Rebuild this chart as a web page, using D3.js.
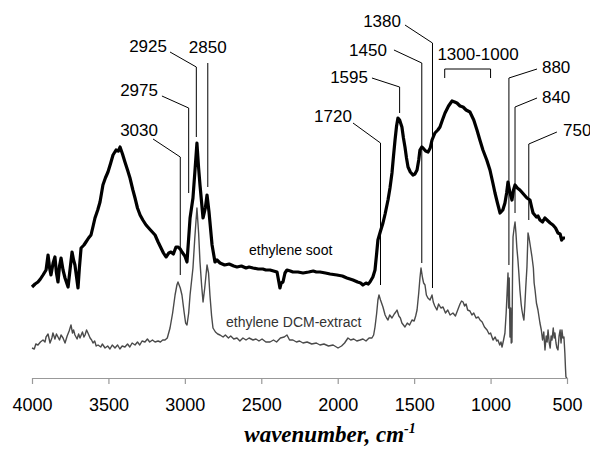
<!DOCTYPE html>
<html>
<head>
<meta charset="utf-8">
<script src="https://cdn.jsdelivr.net/npm/d3@7"></script>
<style>
  html, body { margin: 0; padding: 0; background: #fff; }
  svg { display: block; }
</style>
</head>
<body>
<svg id="chart" width="590" height="450"></svg>
<script>
// ---- data (wavenumber cm^-1, absorbance in arbitrary units) ----
const sootSpectrum = [
  [4000,0.91],[3980,0.94],[3961,0.96],[3945,0.99],[3928,1.03],[3908,1.08],[3895,1.23],[3885,1.10],[3876,1.03],
  [3862,1.15],[3850,1.21],[3840,1.05],[3830,0.96],[3820,1.12],[3810,1.20],[3797,1.08],[3784,1.00],[3764,0.91],
  [3750,1.10],[3738,1.26],[3728,1.18],[3719,1.13],[3699,0.90],[3690,1.10],[3679,1.30],[3660,1.33],[3647,1.36],
  [3630,1.40],[3614,1.43],[3600,1.52],[3588,1.60],[3570,1.68],[3555,1.76],[3536,1.93],[3520,2.00],[3503,2.06],
  [3485,2.15],[3470,2.23],[3450,2.28],[3435,2.27],[3424,2.31],[3408,2.24],[3392,2.16],[3375,2.08],[3359,2.00],
  [3340,1.88],[3326,1.80],[3310,1.70],[3293,1.63],[3275,1.58],[3254,1.53],[3225,1.48],[3195,1.43],[3175,1.36],
  [3156,1.30],[3140,1.25],[3123,1.21],[3105,1.25],[3091,1.26],[3075,1.24],[3058,1.31],[3045,1.31],[3030,1.29],
  [3019,1.26],[3000,1.22],[2986,1.16],[2975,1.40],[2966,1.60],[2947,1.80],[2935,2.05],[2921,2.35],[2910,2.10],
  [2901,1.93],[2881,1.60],[2866,1.70],[2855,1.83],[2842,1.66],[2822,1.33],[2803,1.16],[2790,1.18],[2770,1.15],
  [2740,1.13],[2710,1.14],[2680,1.12],[2659,1.11],[2630,1.12],[2600,1.10],[2580,1.11],[2554,1.10],[2520,1.09],
  [2490,1.09],[2470,1.08],[2443,1.08],[2420,1.07],[2397,1.06],[2385,0.96],[2378,0.90],[2370,0.95],[2358,0.96],
  [2345,1.05],[2332,1.08],[2310,1.07],[2293,1.06],[2260,1.06],[2227,1.05],[2190,1.06],[2160,1.07],[2140,1.06],
  [2116,1.06],[2080,1.05],[2050,1.04],[2005,1.03],[1970,1.02],[1940,1.00],[1900,0.98],[1870,0.96],[1850,0.95],
  [1835,0.93],[1815,0.95],[1800,0.94],[1789,0.96],[1770,1.01],[1756,1.08],[1745,1.25],[1737,1.38],[1720,1.47],
  [1704,1.55],[1690,1.64],[1671,1.78],[1658,1.90],[1645,2.05],[1635,2.22],[1625,2.38],[1615,2.52],[1606,2.60],
  [1595,2.58],[1580,2.51],[1570,2.40],[1560,2.31],[1550,2.20],[1540,2.11],[1525,2.06],[1508,2.03],[1495,2.04],
  [1481,2.08],[1470,2.18],[1462,2.28],[1450,2.31],[1442,2.30],[1425,2.27],[1409,2.26],[1395,2.30],[1383,2.38],
  [1364,2.45],[1345,2.48],[1331,2.51],[1315,2.58],[1298,2.65],[1275,2.72],[1252,2.77],[1235,2.76],[1220,2.75],
  [1200,2.72],[1180,2.71],[1160,2.68],[1135,2.66],[1110,2.58],[1089,2.48],[1070,2.38],[1050,2.28],[1025,2.18],
  [1004,2.08],[985,1.95],[971,1.85],[955,1.75],[938,1.65],[920,1.68],[906,1.75],[895,1.85],[886,1.96],[874,1.86],
  [860,1.78],[850,1.88],[840,1.93],[825,1.90],[808,1.88],[785,1.84],[762,1.80],[742,1.78],[730,1.70],[722,1.65],
  [700,1.61],[690,1.62],[677,1.58],[660,1.56],[645,1.60],[631,1.58],[610,1.55],[592,1.53],[575,1.50],[559,1.45],
  [545,1.44],[535,1.38],[526,1.40],[513,1.40]
];

const dcmSpectrum = [
  [4000,0.30],[3985,0.29],[3975,0.34],[3961,0.33],[3945,0.36],[3928,0.38],[3915,0.36],[3908,0.41],[3895,0.44],
  [3882,0.35],[3870,0.40],[3863,0.45],[3850,0.39],[3840,0.44],[3830,0.41],[3820,0.38],[3810,0.43],[3797,0.40],
  [3784,0.35],[3770,0.42],[3757,0.47],[3745,0.53],[3735,0.45],[3728,0.48],[3719,0.43],[3705,0.39],[3695,0.44],
  [3686,0.40],[3670,0.46],[3660,0.41],[3653,0.43],[3643,0.48],[3634,0.45],[3620,0.40],[3610,0.38],[3601,0.35],
  [3590,0.37],[3580,0.32],[3568,0.33],[3550,0.31],[3540,0.34],[3522,0.30],[3505,0.32],[3490,0.29],[3475,0.33],
  [3457,0.30],[3440,0.33],[3425,0.29],[3410,0.32],[3392,0.31],[3375,0.34],[3360,0.31],[3345,0.35],[3326,0.33],
  [3310,0.36],[3295,0.33],[3280,0.37],[3261,0.36],[3245,0.39],[3230,0.36],[3212,0.38],[3195,0.36],[3175,0.37],
  [3160,0.36],[3145,0.38],[3130,0.38],[3115,0.40],[3097,0.50],[3080,0.65],[3064,0.83],[3052,0.93],[3045,0.96],
  [3030,0.90],[3019,0.83],[3005,0.66],[2995,0.55],[2986,0.53],[2975,0.65],[2966,0.83],[2947,1.10],[2935,1.40],
  [2921,1.70],[2910,1.45],[2901,1.16],[2890,0.92],[2881,0.76],[2870,0.90],[2855,1.13],[2845,1.05],[2836,0.83],
  [2825,0.62],[2816,0.50],[2800,0.46],[2785,0.44],[2770,0.43],[2750,0.41],[2735,0.43],[2715,0.40],[2700,0.42],
  [2680,0.39],[2659,0.40],[2640,0.37],[2620,0.40],[2600,0.38],[2580,0.40],[2554,0.38],[2535,0.39],[2515,0.37],
  [2495,0.39],[2470,0.36],[2443,0.36],[2420,0.38],[2400,0.36],[2375,0.40],[2350,0.41],[2332,0.43],[2315,0.38],
  [2293,0.38],[2270,0.36],[2250,0.37],[2227,0.35],[2200,0.36],[2170,0.34],[2140,0.35],[2116,0.33],[2090,0.34],
  [2060,0.32],[2030,0.33],[1998,0.30],[1975,0.32],[1955,0.35],[1933,0.40],[1915,0.38],[1895,0.39],[1875,0.37],
  [1854,0.38],[1835,0.39],[1815,0.37],[1795,0.40],[1776,0.40],[1765,0.43],[1756,0.51],[1745,0.65],[1737,0.78],
  [1730,0.83],[1720,0.78],[1704,0.71],[1690,0.63],[1680,0.60],[1671,0.58],[1660,0.63],[1645,0.60],[1630,0.64],
  [1620,0.66],[1612,0.68],[1600,0.62],[1590,0.60],[1580,0.55],[1570,0.53],[1560,0.51],[1545,0.55],[1530,0.53],
  [1514,0.58],[1500,0.57],[1490,0.62],[1481,0.68],[1470,0.85],[1462,1.00],[1455,1.10],[1445,1.00],[1438,0.95],
  [1429,0.93],[1420,0.83],[1410,0.80],[1396,0.78],[1383,0.83],[1375,0.76],[1365,0.72],[1351,0.68],[1340,0.74],
  [1325,0.70],[1311,0.71],[1295,0.65],[1280,0.68],[1265,0.63],[1246,0.65],[1230,0.62],[1215,0.68],[1200,0.74],
  [1190,0.77],[1180,0.76],[1170,0.72],[1160,0.74],[1150,0.68],[1135,0.67],[1122,0.63],[1110,0.65],[1095,0.60],
  [1080,0.61],[1069,0.58],[1055,0.56],[1040,0.51],[1023,0.48],[1010,0.44],[1000,0.45],[984,0.38],[970,0.41],
  [960,0.37],[952,0.38],[940,0.33],[932,0.36],[925,0.31],[915,0.38],[906,0.45],[898,0.65],[892,0.85],[886,1.05],
  [882,0.70],[878,1.00],[873,0.41],[868,0.70],[865,0.35],[860,0.36],[856,1.10],[853,1.41],[846,1.50],[840,1.56],
  [834,1.45],[828,1.30],[821,1.18],[815,1.05],[808,0.88],[800,0.74],[795,0.68],[788,0.62],[782,0.58],[776,0.72],
  [770,0.90],[762,1.11],[755,1.45],[748,1.40],[740,1.32],[729,1.21],[720,1.10],[715,0.95],[709,0.88],[700,0.75],
  [690,0.68],[684,0.62],[677,0.55],[668,0.48],[660,0.38],[652,0.46],[644,0.28],[636,0.42],[630,0.36],[624,0.48],
  [616,0.35],[610,0.30],[604,0.42],[598,0.38],[590,0.50],[584,0.40],[579,0.45],[572,0.35],[566,0.30],[559,0.28],
  [552,0.42],[545,0.48],[539,0.35],[533,0.48],[527,0.40],[520,0.41],[514,0.25],[510,0.10],[507,0.01],[500,0.00]
];

const xTickValues = [4000, 3500, 3000, 2500, 2000, 1500, 1000, 500];

// peak annotations: peak wavenumber, tip value, elbow value, leader start (wn, value),
// label anchor point (wn, value)
const peakLabels   = ["3030", "2975", "2925", "2850", "1720", "1595", "1450", "1380", "880", "840", "750"];
const peakWn       = [3030, 2975, 2925, 2850, 1720, 1595, 1450, 1380, 880, 840, 750];
const peakTip      = [1.03, 1.85, 2.41, 1.91, 0.93, 2.65, 1.15, 0.90, 1.13, 1.65, 1.58];
const peakElbow    = [2.21, 2.70, 3.11, 3.15, 2.35, 2.91, 3.15, 3.35, 3.00, 2.71, 2.34];
const leaderStartWn= [3208, 3150, 3097, 2850, 1900, 1776, 1632, 1560, 696, 696, 566];
const leaderStartV = [2.39, 2.82, 3.26, 3.15, 2.55, 3.00, 3.28, 3.53, 3.09, 2.80, 2.46];
const labelWn      = [3176, 3176, 3117, 2850, 1907, 1802, 1678, 1586, 664, 664, 526];
const labelV       = [2.42, 2.82, 3.26, 3.25, 2.56, 2.95, 3.22, 3.51, 3.05, 2.75, 2.42];
const labelSide    = ["end", "end", "end", "middle", "end", "end", "end", "end", "start", "start", "start"];

// region bracket
const regionLabel = "1300-1000";
const regionRange = [1300, 1000];
const regionTextWn = 1082;
const regionBarV = 3.09, regionEndV = 3.00, regionTextV = 3.18;

// series labels
const seriesNames = ["ethylene soot", "ethylene DCM-extract"];
const seriesLabelWn = [2580, 2731];
const seriesLabelV = [1.23, 0.51];

// ---- drawing ----
const svg = d3.select("#chart");
const x = d3.scaleLinear().domain([4000, 500]).range([32, 567]);
const y = d3.scaleLinear().domain([0, 3.78]).range([378, 0]);
const sans = "Arial, 'Liberation Sans', Helvetica, sans-serif";

const line = d3.line().x(d => x(d[0])).y(d => y(d[1]));

svg.append("path")
  .datum(dcmSpectrum)
  .attr("d", line)
  .attr("fill", "none")
  .attr("stroke", "#4a4a4a")
  .attr("stroke-width", 1.4)
  .attr("stroke-linejoin", "round");

svg.append("path")
  .datum(sootSpectrum)
  .attr("d", line)
  .attr("fill", "none")
  .attr("stroke", "#000")
  .attr("stroke-width", 3.2)
  .attr("stroke-linejoin", "round");

// axis
const axis = d3.axisBottom(x).tickValues(xTickValues).tickFormat(d3.format("d"))
  .tickSize(6).tickSizeOuter(0).tickPadding(14);
const gx = svg.append("g").attr("transform", `translate(0,${y(0)})`).call(axis);
gx.select(".domain").attr("stroke", "#999").attr("stroke-width", 1.2);
gx.selectAll(".tick line").attr("stroke", "#999").attr("stroke-width", 1.2);
gx.selectAll(".tick text").attr("fill", "#000").attr("font-family", sans).attr("font-size", 18);

// axis title
const title = svg.append("text")
  .attr("x", 330).attr("y", 442)
  .attr("text-anchor", "middle")
  .attr("font-family", "'Times New Roman', 'Liberation Serif', Times, serif")
  .attr("font-style", "italic").attr("font-weight", "bold")
  .attr("font-size", 23)
  .attr("fill", "#000");
title.append("tspan").text("wavenumber, cm");
title.append("tspan").attr("font-size", 14).attr("dy", -9).text("-1");

// annotations
const ann = svg.append("g").attr("stroke", "#000").attr("stroke-width", 1).attr("fill", "none");
peakLabels.forEach((lab, i) => {
  const pts = [
    [x(leaderStartWn[i]), y(leaderStartV[i])],
    [x(peakWn[i]), y(peakElbow[i])],
    [x(peakWn[i]), y(peakTip[i])]
  ];
  ann.append("path").attr("d", d3.line()(pts));
  svg.append("text")
    .attr("x", x(labelWn[i])).attr("y", y(labelV[i]))
    .attr("text-anchor", labelSide[i])
    .attr("font-family", sans).attr("font-size", 17).attr("fill", "#000")
    .text(lab);
});

// region bracket
ann.append("path").attr("d", d3.line()([
  [x(regionRange[0]), y(regionEndV)],
  [x(regionRange[0]), y(regionBarV)],
  [x(regionRange[1]), y(regionBarV)],
  [x(regionRange[1]), y(regionEndV)]
]));
svg.append("text")
  .attr("x", x(regionTextWn)).attr("y", y(regionTextV))
  .attr("text-anchor", "middle")
  .attr("font-family", sans).attr("font-size", 17).attr("fill", "#000")
  .text(regionLabel);

// series labels
seriesNames.forEach((n, i) => {
  svg.append("text")
    .attr("x", x(seriesLabelWn[i])).attr("y", y(seriesLabelV[i]))
    .attr("font-family", sans).attr("font-size", 14).attr("fill", i === 0 ? "#000" : "#333")
    .text(n);
});
</script>
</body>
</html>
